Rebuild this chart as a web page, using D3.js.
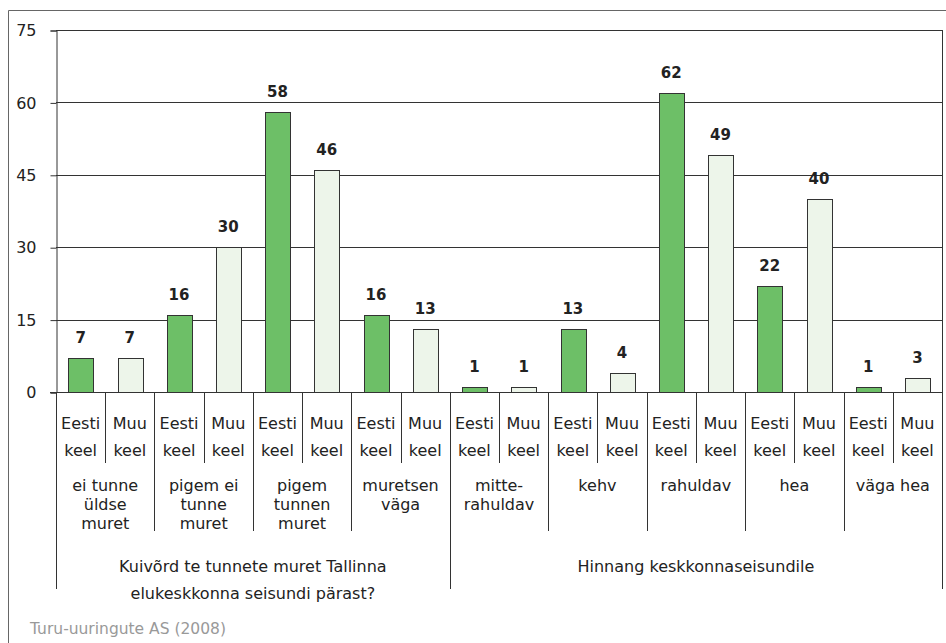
<!DOCTYPE html>
<html><head><meta charset="utf-8">
<script src="https://cdn.jsdelivr.net/npm/d3@7"></script>
<style>body{margin:0;background:#fff}svg{display:block}</style>
</head><body>
<script>
const groups = ["Kuivõrd te tunnete muret Tallinna|elukeskkonna seisundi pärast?", "Hinnang keskkonnaseisundile"];
const categories = ["ei tunne|üldse|muret","pigem ei|tunne|muret","pigem|tunnen|muret","muretsen|väga",
  "mitte-|rahuldav","kehv","rahuldav","hea","väga hea"];
const categoryGroup = [0,0,0,0,1,1,1,1,1];
const seriesNames = ["Eesti|keel","Muu|keel"];
const eestiValues = [7,16,58,16,1,13,62,22,1];
const muuValues = [7,30,46,13,1,4,49,40,3];
const yTicks = [0,15,30,45,60,75];
const source = "Turu-uuringute AS (2008)";

const W=946,H=643;
const svg=d3.select("body").append("svg").attr("width",W).attr("height",H);
const font="DejaVu Sans, Verdana, sans-serif";
const fs=16;
const pLeft=56,pRight=942,pTop=30,pBase=392;

const bars=[];
categories.forEach((c,i)=>{
  bars.push({key:i+"-0",cat:i,s:0,v:eestiValues[i]});
  bars.push({key:i+"-1",cat:i,s:1,v:muuValues[i]});
});
const x=d3.scaleBand().domain(bars.map(d=>d.key)).range([pLeft,pRight]).paddingInner(0).paddingOuter(0);
const y=d3.scaleLinear().domain([0,75]).range([pBase,pTop]);

svg.append("path").attr("d",`M8.5,${H} V10.5 H${W}`).attr("fill","none").attr("stroke","#666").attr("stroke-width",1);

svg.append("g").selectAll("line").data(yTicks.filter(t=>t>0)).join("line")
  .attr("x1",pLeft).attr("x2",pRight).attr("y1",d=>Math.round(y(d))+0.5).attr("y2",d=>Math.round(y(d))+0.5)
  .attr("stroke","#333").attr("stroke-width",1);
svg.append("line").attr("x1",pRight+0.5).attr("x2",pRight+0.5).attr("y1",pTop).attr("y2",pBase).attr("stroke","#333");

const yAxis=d3.axisLeft(y).tickValues(yTicks).tickSize(6).tickPadding(14);
const ga=svg.append("g").attr("transform",`translate(${pLeft+0.5},0.5)`).call(yAxis);
ga.select(".domain").attr("stroke","#333");
ga.selectAll(".tick line").attr("stroke","#333");
ga.selectAll(".tick text").attr("font-family",font).attr("font-size",fs).attr("fill","#222");

const bw=x.bandwidth()*0.5;
svg.append("g").selectAll("rect").data(bars).join("rect")
  .attr("x",d=>Math.round(x(d.key)+x.bandwidth()/2-bw/2)+0.5)
  .attr("y",d=>Math.round(y(d.v))+0.5)
  .attr("width",Math.round(bw))
  .attr("height",d=>pBase-Math.round(y(d.v)))
  .attr("fill",d=>d.s===0?"#6dbf67":"#edf5ea")
  .attr("stroke","#333").attr("stroke-width",1);

svg.append("g").selectAll("text").data(bars).join("text")
  .attr("x",d=>x(d.key)+x.bandwidth()/2)
  .attr("y",d=>y(d.v)-15)
  .attr("text-anchor","middle").attr("font-family",font).attr("font-size",15).attr("font-weight","bold").attr("fill","#222")
  .text(d=>d.v);

svg.append("line").attr("x1",pLeft-6).attr("x2",pRight).attr("y1",pBase+0.5).attr("y2",pBase+0.5).attr("stroke","#333");

const sep=svg.append("g").attr("stroke","#333").attr("stroke-width",1);
bars.forEach((d,i)=>{
  const xx=Math.round(x(d.key))+0.5;
  let yb;
  if(d.s===1) yb=463;
  else if(i===0 || categoryGroup[d.cat]!==categoryGroup[d.cat-1]) yb=589;
  else yb=531;
  sep.append("line").attr("x1",xx).attr("x2",xx).attr("y1",pBase).attr("y2",yb);
});
sep.append("line").attr("x1",pRight+0.5).attr("x2",pRight+0.5).attr("y1",pBase).attr("y2",589);

function multiline(g,txt,cx,y0,lh){
  const t=g.append("text").attr("text-anchor","middle").attr("font-family",font).attr("font-size",fs).attr("fill","#222");
  txt.split("|").forEach((s,k)=>t.append("tspan").attr("x",cx).attr("y",y0+k*lh).text(s));
}
const lab=svg.append("g");
bars.forEach(d=>{
  multiline(lab,seriesNames[d.s],x(d.key)+x.bandwidth()/2,429,27);
});
categories.forEach((c,i)=>{
  const cx=x(i+"-0")+x.bandwidth();
  multiline(lab,c,cx,491,19);
});
groups.forEach((g,gi)=>{
  const idx=categoryGroup.map((v,i)=>v===gi?i:-1).filter(v=>v>=0);
  const x0=x(idx[0]+"-0"), x1=x(idx[idx.length-1]+"-1")+x.bandwidth();
  multiline(lab,g,(x0+x1)/2,572,27);
});

svg.append("text").attr("x",30).attr("y",634).attr("font-family",font).attr("font-size",15.5).attr("fill","#999").text(source);
</script>
</body></html>
